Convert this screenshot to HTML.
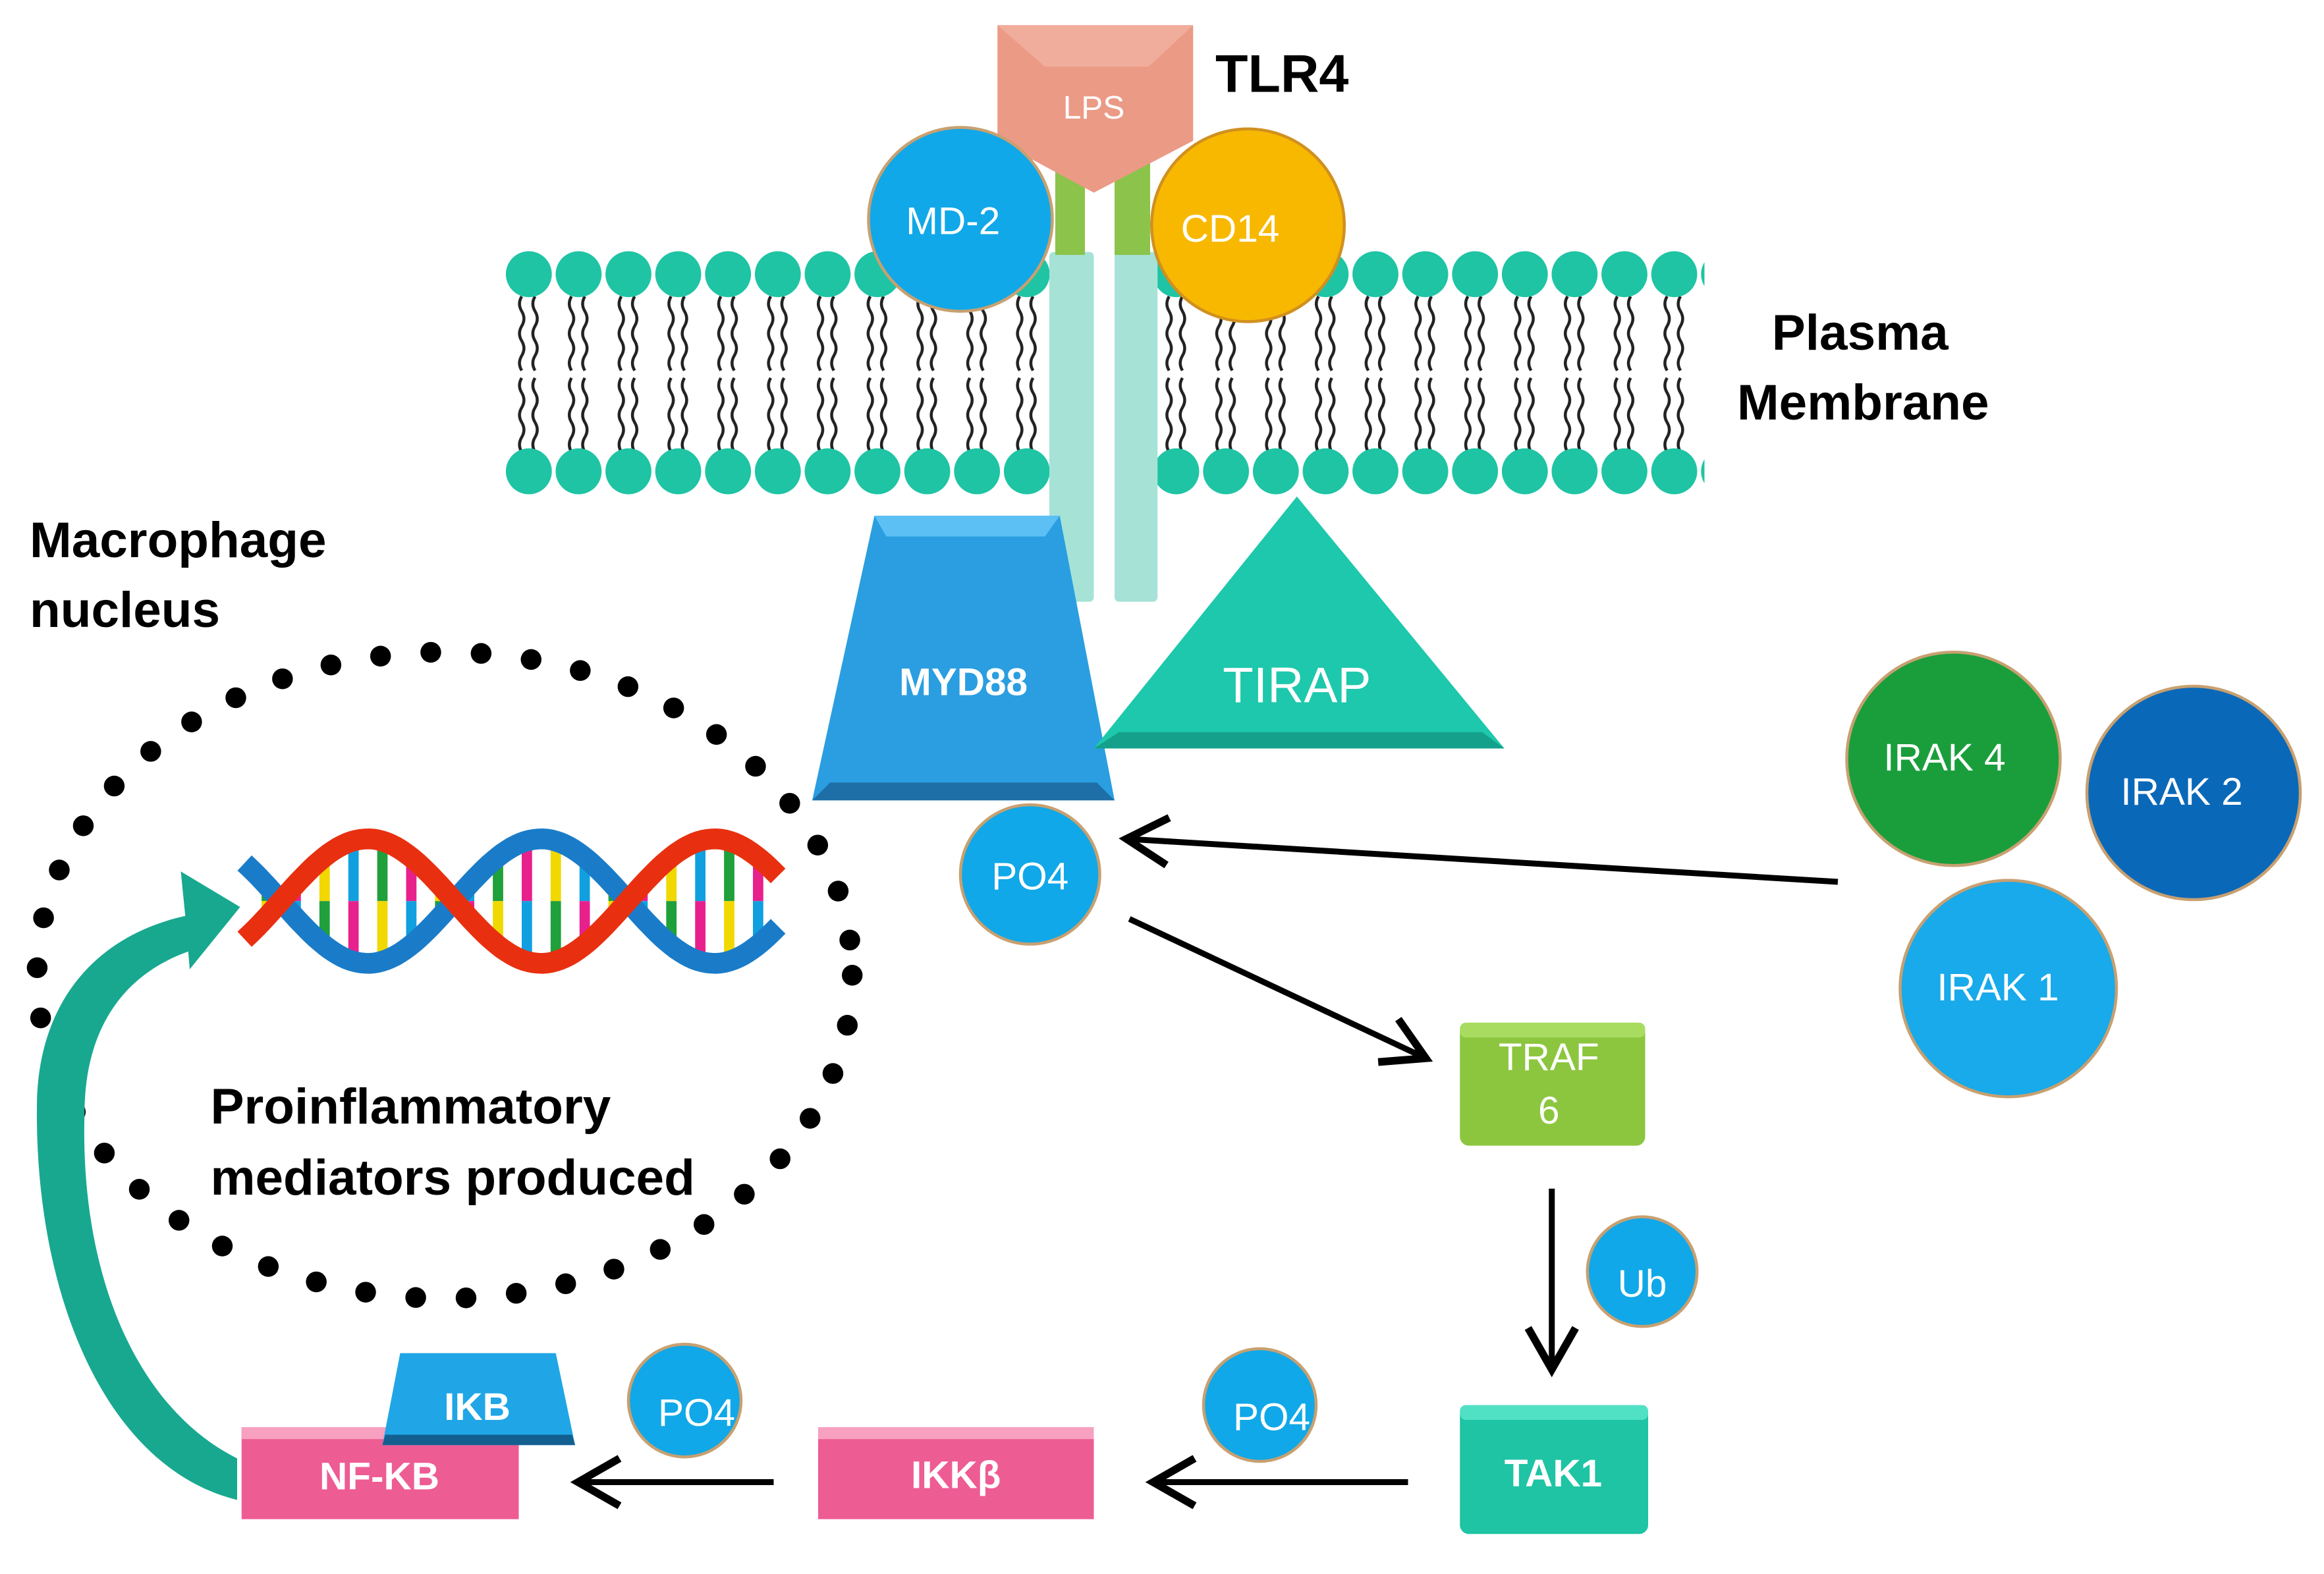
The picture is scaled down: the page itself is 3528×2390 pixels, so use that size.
<!DOCTYPE html>
<html><head><meta charset="utf-8"><style>
html,body{margin:0;padding:0;background:#fff;}
svg{display:block;}
text{font-family:"Liberation Sans",sans-serif;}
</style></head><body>
<svg width="3528" height="2390" viewBox="0 0 1568 1062" preserveAspectRatio="none" xmlns="http://www.w3.org/2000/svg">
<defs>
<pattern id="lipid" x="340" y="0" width="33.6" height="1062" patternUnits="userSpaceOnUse">
 <path d="M12 200 q-3 5 0 10 q3 5 0 10 q-3 5 0 10 q3 5 0 10 q-3 5 0 10 M21 200 q-3 5 0 10 q3 5 0 10 q-3 5 0 10 q3 5 0 10 q-3 5 0 10 M12 255 q-3 5 0 10 q3 5 0 10 q-3 5 0 10 q3 5 0 10 q-3 5 0 10 M21 255 q-3 5 0 10 q3 5 0 10 q-3 5 0 10 q3 5 0 10 q-3 5 0 10" fill="none" stroke="#222" stroke-width="2"/>
 <circle cx="16.8" cy="185" r="15.5" fill="#1ec4a4"/>
 <circle cx="16.8" cy="318" r="15.5" fill="#1ec4a4"/>
</pattern>
<marker id="ah" markerWidth="10" markerHeight="10" refX="8" refY="5" orient="auto" markerUnits="strokeWidth">
 <path d="M1 1 L8 5 L1 9" fill="none" stroke="#000" stroke-width="1.3"/>
</marker>
</defs>
<!-- membrane -->
<rect x="340" y="165" width="368" height="172" fill="url(#lipid)"/>
<rect x="780" y="165" width="370" height="172" fill="url(#lipid)"/>
<!-- TLR4 stalks -->
<rect x="708" y="170" width="30" height="236" rx="3" fill="#a6e3d6"/>
<rect x="752" y="170" width="29" height="236" rx="3" fill="#a6e3d6"/>
<rect x="712" y="100" width="20" height="72" fill="#8cc34a"/>
<rect x="752" y="100" width="24" height="72" fill="#8cc34a"/>
<!-- LPS -->
<path d="M673 17 L805 17 L805 95 L738 130 L673 95 Z" fill="#eb9a86"/>
<path d="M673 17 L705 45 L775 45 L805 17 Z" fill="#f1ad9c"/>
<text x="738" y="80" font-size="22" fill="#fff" text-anchor="middle">LPS</text>
<text x="820" y="62" font-size="36" font-weight="bold">TLR4</text>
<!-- MD-2 / CD14 -->
<circle cx="648" cy="148" r="62" fill="#10a8e8" stroke="#c8a070" stroke-width="2"/>
<text x="643" y="158" font-size="26" fill="#fff" text-anchor="middle">MD-2</text>
<circle cx="842" cy="152" r="65" fill="#f8b800" stroke="#d09020" stroke-width="2"/>
<text x="830" y="163" font-size="26" fill="#fff" text-anchor="middle">CD14</text>
<text x="1255" y="236" font-size="34" font-weight="bold" text-anchor="middle">Plasma</text>
<text x="1257" y="283" font-size="34" font-weight="bold" text-anchor="middle">Membrane</text>
<text x="20" y="376" font-size="34" font-weight="bold">Macrophage</text>
<text x="20" y="423" font-size="34" font-weight="bold">nucleus</text>
<!-- MYD88 -->
<path d="M590 348 L715 348 L752 540 L548 540 Z" fill="#2a9ee0"/>
<path d="M590 348 L715 348 L705 362 L598 362 Z" fill="#5cc0f4"/>
<path d="M548 540 L752 540 L740 528 L560 528 Z" fill="#1e6fa8"/>
<text x="650" y="469" font-size="26" font-weight="bold" fill="#fff" text-anchor="middle">MYD88</text>
<!-- TIRAP -->
<path d="M875 335 L1015 505 L738 505 Z" fill="#1dc8ac"/>
<path d="M738 505 L1015 505 L1000 494 L755 494 Z" fill="#14a08a"/>
<text x="875" y="474" font-size="34" fill="#fff" text-anchor="middle">TIRAP</text>
<!-- nucleus dotted ellipse -->
<ellipse cx="300" cy="658" rx="275" ry="218" fill="none" stroke="#000" stroke-width="14" stroke-linecap="round" stroke-dasharray="0 34"/>
<g id="dna"></g>
<text x="142" y="758" font-size="34" font-weight="bold">Proinflammatory</text>
<text x="142" y="806" font-size="34" font-weight="bold">mediators produced</text>
<!-- curved arrow -->
<path d="M160 1012 C 70 990 22 870 25 740 C 28 670 70 630 125 618 L122 588 L162 612 L128 654 L127 642 C 85 657 57 692 57 752 C 54 860 92 950 160 984 Z" fill="#18a890"/>
<!-- PO4 near myd88 -->
<circle cx="695" cy="590" r="47" fill="#10a8e8" stroke="#c8a070" stroke-width="2"/>
<text x="695" y="600" font-size="26" fill="#fff" text-anchor="middle">PO4</text>
<!-- arrows -->
<line x1="1240" y1="595" x2="760" y2="566" stroke="#000" stroke-width="4" marker-end="url(#ah)"/>
<line x1="762" y1="620" x2="962" y2="714" stroke="#000" stroke-width="4" marker-end="url(#ah)"/>
<line x1="1047" y1="802" x2="1047" y2="924" stroke="#000" stroke-width="4" marker-end="url(#ah)"/>
<line x1="950" y1="1000" x2="778" y2="1000" stroke="#000" stroke-width="4" marker-end="url(#ah)"/>
<line x1="522" y1="1000" x2="390" y2="1000" stroke="#000" stroke-width="4" marker-end="url(#ah)"/>
<!-- IRAKs -->
<circle cx="1318" cy="512" r="72" fill="#1a9e3c" stroke="#c8a070" stroke-width="2"/>
<text x="1312" y="520" font-size="26" fill="#fff" text-anchor="middle">IRAK 4</text>
<circle cx="1480" cy="535" r="72" fill="#0a68b8" stroke="#c8a070" stroke-width="2"/>
<text x="1472" y="543" font-size="26" fill="#fff" text-anchor="middle">IRAK 2</text>
<circle cx="1355" cy="667" r="73" fill="#18aaea" stroke="#c8a070" stroke-width="2"/>
<text x="1348" y="675" font-size="26" fill="#fff" text-anchor="middle">IRAK 1</text>
<!-- TRAF6 -->
<rect x="985" y="690" width="125" height="83" rx="6" fill="#8cc63f"/>
<rect x="985" y="690" width="125" height="10" rx="4" fill="#a8dc60"/>
<text x="1045" y="722" font-size="26" fill="#fff" text-anchor="middle">TRAF</text>
<text x="1045" y="758" font-size="26" fill="#fff" text-anchor="middle">6</text>
<circle cx="1108" cy="858" r="37" fill="#10a8e8" stroke="#c8a070" stroke-width="2"/>
<text x="1108" y="875" font-size="26" fill="#fff" text-anchor="middle">Ub</text>
<!-- TAK1 -->
<rect x="985" y="948" width="127" height="87" rx="6" fill="#1ec4a4"/>
<rect x="985" y="948" width="127" height="10" rx="4" fill="#50e0c4"/>
<text x="1048" y="1003" font-size="26" font-weight="bold" fill="#fff" text-anchor="middle">TAK1</text>
<circle cx="850" cy="948" r="38" fill="#10a8e8" stroke="#c8a070" stroke-width="2"/>
<text x="858" y="965" font-size="26" fill="#fff" text-anchor="middle">PO4</text>
<!-- IKKb -->
<rect x="552" y="963" width="186" height="62" fill="#ee5c94"/>
<rect x="552" y="963" width="186" height="8" fill="#f7a0c0"/>
<text x="645" y="1004" font-size="26" font-weight="bold" fill="#fff" text-anchor="middle">IKKβ</text>
<circle cx="462" cy="945" r="38" fill="#10a8e8" stroke="#c8a070" stroke-width="2"/>
<text x="470" y="962" font-size="26" fill="#fff" text-anchor="middle">PO4</text>
<!-- NF-KB / IKB -->
<rect x="163" y="963" width="187" height="62" fill="#ee5c94"/>
<rect x="163" y="963" width="187" height="8" fill="#f7a0c0"/>
<text x="256" y="1005" font-size="26" font-weight="bold" fill="#fff" text-anchor="middle">NF-KB</text>
<path d="M270 913 L375 913 L388 975 L258 975 Z" fill="#20a6e6"/>
<path d="M258 975 L388 975 L386 968 L260 968 Z" fill="#135f90"/>
<text x="322" y="958" font-size="26" font-weight="bold" fill="#fff" text-anchor="middle">IKB</text>
</svg>
<script>
(function(){
 var g=document.getElementById('dna'),ns='http://www.w3.org/2000/svg';
 function strand(ph,col){var d='';for(var x=165;x<=525;x+=3){var y=608-42*Math.cos(2*Math.PI*(x-365)/234+ph);d+=(x==165?'M':'L')+x+' '+y.toFixed(1);}
  var p=document.createElementNS(ns,'path');p.setAttribute('d',d);p.setAttribute('fill','none');p.setAttribute('stroke',col);p.setAttribute('stroke-width','14');g.appendChild(p);}
 var cols=['#1fa03a','#e8208c','#f0d800','#10a0e0'];
 for(var i=0;i<18;i++){var x=180+i*19.5;var y1=608-42*Math.cos(2*Math.PI*(x-365)/234),y2=608-42*Math.cos(2*Math.PI*(x-365)/234+Math.PI);
  var a=Math.min(y1,y2),b=Math.max(y1,y2),m=(a+b)/2;
  [[a,m,cols[i%4]],[m,b,cols[(i+2)%4]]].forEach(function(s){var r=document.createElementNS(ns,'line');r.setAttribute('x1',x);r.setAttribute('x2',x);r.setAttribute('y1',s[0]);r.setAttribute('y2',s[1]);r.setAttribute('stroke',s[2]);r.setAttribute('stroke-width','7');g.appendChild(r);});}
 strand(0,'#1a7cc8');strand(Math.PI,'#e83010');
})();
</script>
</body></html>
